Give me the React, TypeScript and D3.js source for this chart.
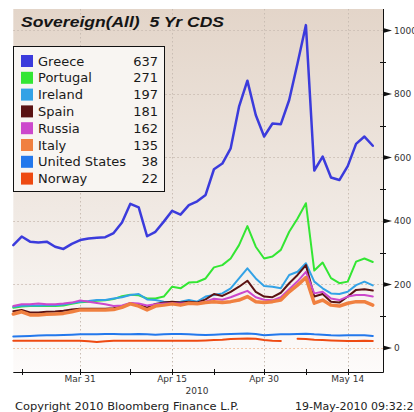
import { useEffect, useRef } from "react";
import * as d3 from "d3";

// business days, 19-Mar-2010 .. 19-May-2010
const dates = [
  "2010-03-19", "2010-03-22", "2010-03-23", "2010-03-24", "2010-03-25", "2010-03-26",
  "2010-03-29", "2010-03-30", "2010-03-31", "2010-04-01", "2010-04-02",
  "2010-04-05", "2010-04-06", "2010-04-07", "2010-04-08", "2010-04-09",
  "2010-04-12", "2010-04-13", "2010-04-14", "2010-04-15", "2010-04-16",
  "2010-04-19", "2010-04-20", "2010-04-21", "2010-04-22", "2010-04-23",
  "2010-04-26", "2010-04-27", "2010-04-28", "2010-04-29", "2010-04-30",
  "2010-05-03", "2010-05-04", "2010-05-05", "2010-05-06", "2010-05-07",
  "2010-05-10", "2010-05-11", "2010-05-12", "2010-05-13", "2010-05-14",
  "2010-05-17", "2010-05-18", "2010-05-19",
];

const greece = [324, 351, 335, 332, 335, 319, 312, 328, 340, 345, 347, 349, 362, 395, 454, 443, 352, 366, 398, 432, 420, 450, 462, 482, 563, 581, 629, 760, 842, 734, 666, 707, 705, 781, 897, 1017, 559, 603, 537, 529, 573, 643, 666, 637];
const portugal = [127, 131, 132, 132, 133, 132, 134, 139, 144, 146, 149, 150, 154, 163, 168, 166, 156, 156, 162, 193, 188, 206, 208, 219, 254, 261, 282, 324, 384, 319, 282, 288, 309, 366, 408, 456, 244, 269, 220, 204, 209, 272, 282, 271];
const ireland = [130, 133, 134, 134, 135, 135, 137, 142, 146, 148, 151, 151, 156, 160, 167, 170, 153, 151, 146, 143, 146, 151, 146, 162, 167, 172, 188, 219, 251, 219, 195, 193, 188, 230, 240, 267, 209, 188, 172, 170, 177, 198, 209, 197];
const spain = [116, 120, 112, 112, 114, 115, 117, 121, 124, 124, 124, 124, 125, 131, 141, 136, 127, 139, 143, 146, 143, 146, 143, 153, 170, 164, 177, 193, 212, 177, 162, 160, 174, 204, 230, 261, 162, 170, 146, 143, 162, 183, 185, 181];
const russia = [132, 138, 138, 140, 138, 138, 140, 143, 150, 146, 142, 138, 132, 134, 142, 140, 134, 138, 140, 141, 140, 142, 141, 146, 155, 152, 160, 170, 180, 160, 152, 150, 160, 185, 210, 240, 172, 177, 156, 151, 162, 167, 167, 162];
const italy = [107, 114, 104, 104, 106, 107, 109, 114, 120, 120, 120, 120, 121, 128, 139, 132, 120, 132, 135, 139, 135, 141, 139, 143, 146, 143, 146, 151, 162, 146, 143, 146, 151, 177, 198, 222, 141, 151, 135, 132, 141, 146, 146, 135];
const unitedStates = [36, 37, 38, 39, 40, 40, 41, 42, 43, 43, 43, 44, 44, 43, 43, 44, 43, 42, 43, 44, 44, 43, 42, 41, 42, 43, 44, 45, 46, 44, 40, 42, 43, 43, 44, 45, 43, 42, 40, 39, 40, 40, 40, 38];
const norway = [23, 23, 23, 23, 23, 23, 23, 23, 23, 21, 19, 21, 23, 23, 23, 23, 23, 23, 23, 23, 23, 23, 23, 24, 25, 26, 28, 29, 30, 29, 25, 23, 22, null, 29, 28, 26, 25, 24, 23, 22, 22, 23, 22];

const seriesNames = ["Greece", "Portugal", "Ireland", "Spain", "Russia", "Italy", "United States", "Norway"];
const lastValues = [637, 271, 197, 181, 162, 135, 38, 22];
const seriesColors = ["#3b3bdc", "#33e633", "#33a2e6", "#5a1212", "#cc48cc", "#f08040", "#2378ec", "#ee4a12"];
const seriesWidths = [2.5, 2, 2, 2, 2, 3.5, 2, 2];
const seriesValues = [greece, portugal, ireland, spain, russia, italy, unitedStates, norway];

const majorTicks = ["2010-03-31", "2010-04-15", "2010-04-30", "2010-05-14"];
const majorLabels = ["Mar 31", "Apr 15", "Apr 30", "May 14"];
const minorTicks = ["2010-03-22", "2010-04-08", "2010-04-22", "2010-05-07"];
const yTicks = [0, 200, 400, 600, 800, 1000];
const yMinor = [100, 300, 500, 700, 900];

const W = 414;
const H = 412;

export default function App() {
  const ref = useRef<SVGSVGElement>(null);

  useEffect(() => {
    const svg = d3.select(ref.current);
    svg.selectAll("*").remove();

    const left = 13.3, right = 383, top = 9, bottom = 372;
    const x = d3.scalePoint<string>().domain(dates).range([left, 372.8]);
    const y = d3.scaleLinear().domain([-75.6, 1067.7]).range([bottom, top]);

    const defs = svg.append("defs");
    const grad = defs.append("linearGradient").attr("id", "bg").attr("x1", 0).attr("x2", 0).attr("y1", 0).attr("y2", 1);
    grad.append("stop").attr("offset", "0%").attr("stop-color", "#e3d5c9");
    grad.append("stop").attr("offset", "55%").attr("stop-color", "#f0e9e3");
    grad.append("stop").attr("offset", "100%").attr("stop-color", "#fdfbfa");

    svg.append("rect").attr("width", W).attr("height", H).attr("fill", "#fff");
    svg.append("rect").attr("x", left).attr("y", top).attr("width", right - left).attr("height", bottom - top).attr("fill", "url(#bg)");

    // grid
    const grid = svg.append("g").attr("fill", "none").attr("stroke-width", 1).attr("stroke-dasharray", "1.5,2.5");
    yTicks.forEach((t) => {
      grid.append("line")
        .attr("x1", left).attr("x2", right)
        .attr("y1", Math.round(y(t)) + 0.5).attr("y2", Math.round(y(t)) + 0.5)
        .attr("stroke", t === 0 ? "#f0b892" : "#c9bdb3");
    });
    majorTicks.forEach((d) => {
      const xx = Math.round(x(d)!) + 0.5;
      grid.append("line").attr("x1", xx).attr("x2", xx).attr("y1", top).attr("y2", bottom).attr("stroke", "#c9bdb3");
    });

    // series
    const line = d3.line<number | null>()
      .defined((d) => d !== null)
      .x((_, i) => x(dates[i])!)
      .y((d) => y(d as number));

    seriesValues.forEach((vals, k) => {
      svg.append("path")
        .attr("d", line(vals))
        .attr("fill", "none")
        .attr("stroke", seriesColors[k])
        .attr("stroke-width", seriesWidths[k])
        .attr("stroke-linejoin", "round")
        .attr("stroke-linecap", "round");
    });

    // axes
    svg.append("line").attr("x1", left).attr("x2", right + 0.5).attr("y1", bottom + 0.5).attr("y2", bottom + 0.5).attr("stroke", "#111");
    svg.append("line").attr("x1", right + 0.5).attr("x2", right + 0.5).attr("y1", top).attr("y2", bottom + 0.5).attr("stroke", "#111");

    const tickFont = "DejaVu Sans, Verdana, sans-serif";
    [...majorTicks, ...minorTicks].forEach((d) => {
      const xx = Math.round(x(d)!) + 0.5;
      svg.append("line").attr("x1", xx).attr("x2", xx).attr("y1", bottom - 3).attr("y2", bottom + 3).attr("stroke", "#111");
    });
    majorTicks.forEach((d, i) => {
      svg.append("text").attr("x", x(d)!).attr("y", 382).attr("text-anchor", "middle")
        .attr("font-family", tickFont).attr("font-size", 9).attr("fill", "#333").text(majorLabels[i]);
    });
    svg.append("text").attr("x", 197).attr("y", 394).attr("text-anchor", "middle")
      .attr("font-family", tickFont).attr("font-size", 9).attr("fill", "#333").text("2010");

    yTicks.forEach((t) => {
      const yy = y(t);
      svg.append("path").attr("d", `M${right},${yy - 2.5}L${right + 9},${yy}L${right},${yy + 2.5}Z`).attr("fill", "#111");
      svg.append("text").attr("x", 394).attr("y", yy + 3.2)
        .attr("font-family", tickFont).attr("font-size", 9).attr("fill", "#333").text(t);
    });
    yMinor.forEach((t) => {
      const yy = Math.round(y(t)) + 0.5;
      svg.append("line").attr("x1", right - 3).attr("x2", right + 3).attr("y1", yy).attr("y2", yy).attr("stroke", "#111");
    });

    // title
    svg.append("text").attr("x", 21).attr("y", 27)
      .attr("font-family", "Liberation Sans, Arial, sans-serif").attr("font-size", 15)
      .attr("font-weight", "bold").attr("font-style", "italic").attr("fill", "#151515")
      .attr("textLength", 203).attr("lengthAdjust", "spacingAndGlyphs")
      .style("white-space", "pre")
      .text("Sovereign(All)  5 Yr CDS");

    // legend
    const lg = svg.append("g");
    lg.append("rect").attr("x", 13.5).attr("y", 46.5).attr("width", 151).attr("height", 145)
      .attr("fill", "#f8f5f2").attr("stroke", "#111");
    seriesNames.forEach((name, i) => {
      const cy = 61 + i * 16.8;
      lg.append("rect").attr("x", 21).attr("y", cy - 6).attr("width", 12).attr("height", 12).attr("fill", seriesColors[i]);
      lg.append("text").attr("x", 38).attr("y", cy + 4.6)
        .attr("font-family", tickFont).attr("font-size", 13).attr("fill", "#1a1a1a").text(name);
      lg.append("text").attr("x", 158).attr("y", cy + 4.6).attr("text-anchor", "end")
        .attr("font-family", tickFont).attr("font-size", 13).attr("fill", "#1a1a1a").text(lastValues[i]);
    });

    // footer
    svg.append("text").attr("x", 15).attr("y", 410)
      .attr("font-family", tickFont).attr("font-size", 11).attr("fill", "#222")
      .attr("textLength", 224).attr("lengthAdjust", "spacingAndGlyphs")
      .text("Copyright 2010 Bloomberg Finance L.P.");
    svg.append("text").attr("x", 295).attr("y", 410)
      .attr("font-family", tickFont).attr("font-size", 11).attr("fill", "#222")
      .text("19-May-2010 09:32:29");
  }, []);

  return (
    <div style={{ position: "fixed", left: 0, top: 0, width: W, height: H }}>
      <svg ref={ref} width={W} height={H} style={{ display: "block" }} />
    </div>
  );
}
